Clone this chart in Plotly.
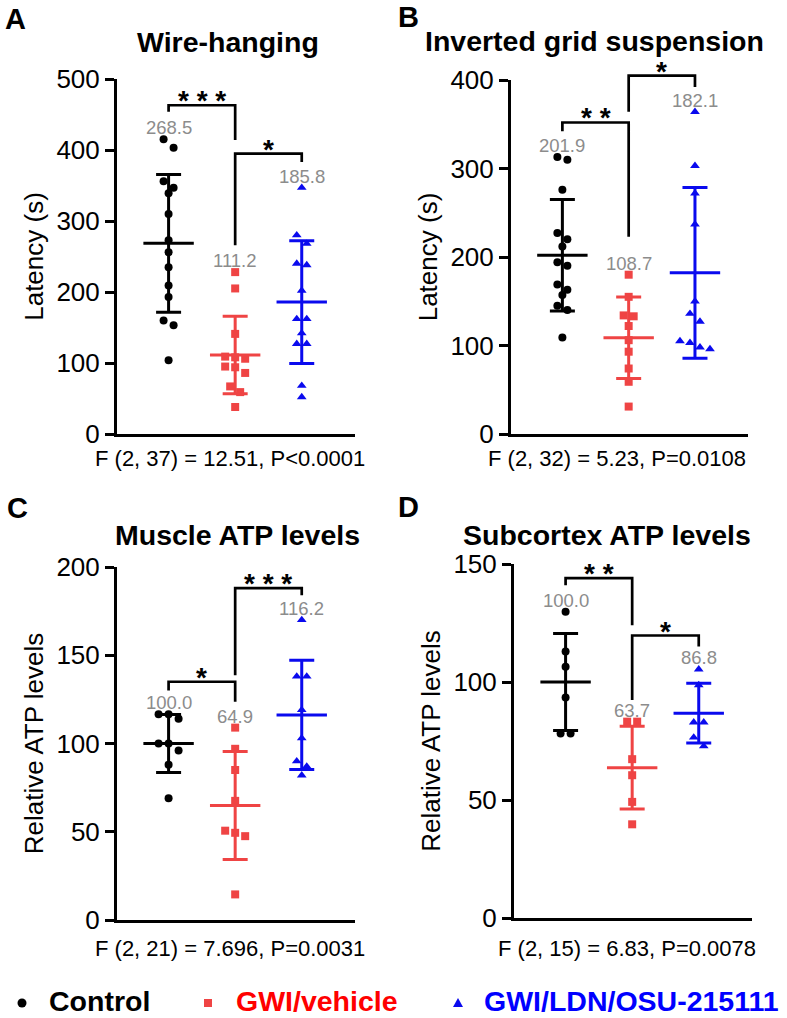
import plotly.graph_objects as go

W, H = 787, 1018
FONT = "Liberation Sans, Arial, sans-serif"

# ---------------- data ----------------
groups = ["Control", "GWI/vehicle", "GWI/LDN/OSU-215111"]

A_ctrl = [415, 403, 356, 347, 339, 310, 273, 256, 235, 209, 193, 160, 153, 104]
A_gwi = [228, 205, 141, 109, 108, 106, 95, 94, 86, 67, 59, 38]
A_ldn = [347, 280, 268, 240, 238, 202, 162, 162, 142, 127, 127, 68, 52]
A_mean = [268.5, 111.2, 185.8]
A_sd = [97, 54.5, 86.5]

B_ctrl = [313, 310, 276, 227, 220, 212, 194, 190, 169, 163, 157, 145, 140, 109]
B_gwi = [180, 155, 134, 133, 122, 106, 93, 74, 59, 31]
B_ldn = [364, 303, 272, 237, 150, 136, 127, 105, 103, 98, 96]
B_mean = [201.9, 108.7, 182.1]
B_sd = [63, 46, 96.5]

C_ctrl = [116.6, 116.6, 114, 100, 100, 96, 88, 69]
C_gwi = [109, 97, 85, 67.5, 50.6, 49.4, 47.5, 14.5]
C_ldn = [170, 138, 138, 119, 103, 90, 87, 82]
C_mean = [100.0, 64.9, 116.2]
C_sd = [16.4, 30.6, 31]

D_ctrl = [129.8, 112.9, 106.5, 93.4, 78.2, 78.2]
D_gwi = [83.2, 83.2, 67.3, 60.5, 49.2, 39.7]
D_ldn = [105.4, 98.7, 82.9, 82.9, 76.5, 72.8]
D_mean = [100.0, 63.7, 86.8]
D_sd = [20.5, 17.5, 12.7]

titles = ["Wire-hanging", "Inverted grid suspension", "Muscle ATP levels", "Subcortex ATP levels"]
letters = ["A", "B", "C", "D"]
ytitles = ["Latency (s)", "Latency (s)", "Relative ATP levels", "Relative ATP levels"]
ymax = [500, 400, 200, 150]
ydtick = [100, 100, 50, 50]
stats = ["F (2, 37) = 12.51, P<0.0001", "F (2, 32) = 5.23, P=0.0108",
         "F (2, 21) = 7.696, P=0.0031", "F (2, 15) = 6.83, P=0.0078"]

# significance brackets: (group i, group j, top, left leg end, right leg end, stars)
A_br = [(0, 1, 463, 454, 414, "* * *"), (1, 2, 395, 266, 383, "*")]
B_br = [(0, 1, 352, 342, 223, "* *"), (1, 2, 405, 364, 392, "*")]
C_br = [(0, 1, 135, 130, 123.6, "*"), (1, 2, 188, 138.7, 184, "* * *")]
D_br = [(0, 1, 144, 141, 124, "* *"), (1, 2, 119.7, 92.4, 115, "*")]

# ---------------- styling / layout ----------------
colors = ["#000000", "#EF4444", "#0A0AEE"]
symbols = ["circle", "square", "triangle-up"]
msizes = [8, 8, 8.5]
text_colors = ["#000000", "#FF0000", "#0000FF"]

# pixel boxes of the plot areas (x0, x1, y_top, y_bottom)
boxes = [(117, 355, 79, 434), (511, 748, 80, 434), (117, 355, 567, 920), (514, 752, 564, 918)]
xr = [-0.775, 2.8]
title_pos = [(228, 42), (594, 41), (237, 535), (607, 535)]
letter_pos = [(15, 19), (408, 17), (17, 508), (408, 507)]
stat_pos = [(230, 458), (617, 458), (230, 948), (627, 948)]

panels = [
    ([A_ctrl, A_gwi, A_ldn], A_mean, A_sd, A_br),
    ([B_ctrl, B_gwi, B_ldn], B_mean, B_sd, B_br),
    ([C_ctrl, C_gwi, C_ldn], C_mean, C_sd, C_br),
    ([D_ctrl, D_gwi, D_ldn], D_mean, D_sd, D_br),
]


def swarm(vals, ppu, ppx, thresh=9.0, spacing=10.0):
    """Prism-like column scatter: points closer than thresh px share a row."""
    order = sorted(range(len(vals)), key=lambda i: -vals[i])
    bins, cur = [], [order[0]]
    for i in order[1:]:
        if (vals[cur[0]] - vals[i]) * ppu < thresh:
            cur.append(i)
        else:
            bins.append(cur)
            cur = [i]
    bins.append(cur)
    off = [0.0] * len(vals)
    for b in bins:
        k = len(b)
        for j, i in enumerate(b):
            off[i] = (j - (k - 1) / 2) * spacing / ppx
    return off


fig = go.Figure()
shapes, annotations = [], []
layout = {}

for p, (series, means, sds, brackets) in enumerate(panels):
    n = p + 1
    xa = "x" if n == 1 else f"x{n}"
    ya = "y" if n == 1 else f"y{n}"
    x0, x1, yt, yb = boxes[p]
    xdom = [x0 / W, x1 / W]
    ydom = [1 - yb / H, 1 - yt / H]
    ppu = (yb - yt) / ymax[p]
    ppx = (x1 - x0) / (xr[1] - xr[0])

    layout["xaxis" if n == 1 else f"xaxis{n}"] = dict(
        domain=xdom, range=xr, anchor=ya, showline=True, linecolor="black", linewidth=3,
        showticklabels=False, ticks="", showgrid=False, zeroline=False, fixedrange=True)
    layout["yaxis" if n == 1 else f"yaxis{n}"] = dict(
        domain=ydom, range=[0, ymax[p]], anchor=xa, showline=True, linecolor="black",
        linewidth=3, ticks="outside", ticklen=9, tickwidth=3, tickcolor="black",
        dtick=ydtick[p], tick0=0, showgrid=False, zeroline=False, automargin=False,
        tickfont=dict(family=FONT, size=26, color="black"),
        title=dict(text=ytitles[p], font=dict(family=FONT, size=26, color="black"), standoff=6))

    for g in range(3):
        vals = series[g]
        # mean line + SD error bar (line-ew length = 1.4 * size)
        fig.add_trace(go.Scatter(
            x=[g], y=[means[g]], xaxis=xa, yaxis=ya, mode="markers", showlegend=False,
            cliponaxis=False, hoverinfo="skip",
            marker=dict(symbol="line-ew", size=36, color=colors[g],
                        line=dict(width=3, color=colors[g])),
            error_y=dict(type="data", array=[sds[g]], visible=True, color=colors[g],
                         thickness=3, width=12.5)))
        offs = swarm(vals, ppu, ppx)
        fig.add_trace(go.Scatter(
            x=[g + o for o in offs], y=vals, xaxis=xa, yaxis=ya, mode="markers",
            showlegend=False, cliponaxis=False, name=groups[g],
            marker=dict(symbol=symbols[g], size=msizes[g], color=colors[g], line=dict(width=0))))
        # mean value label above the highest point
        annotations.append(dict(
            x=g, y=max(vals), xref=xa, yref=ya, text=f"{means[g]:.1f}", showarrow=False,
            xanchor="center", yanchor="bottom", yshift=-1,
            font=dict(family=FONT, size=18.5, color="#8C8C8C")))

    # brackets use the y "domain" reference (value / axis max) so they are not clipped
    yd = f"{ya} domain"
    for (i, j, ytop, yl, yr_, stars) in brackets:
        m = ymax[p]
        shapes.append(dict(
            type="path", xref=xa, yref=yd,
            path=f"M {i},{yl / m} L {i},{ytop / m} L {j},{ytop / m} L {j},{yr_ / m}",
            line=dict(color="black", width=2.7)))
        annotations.append(dict(
            x=(i + j) / 2, y=ytop / m, xref=xa, yref=yd, text=f"<b>{stars}</b>", showarrow=False,
            xanchor="center", yanchor="bottom", yshift=-13,
            font=dict(family=FONT, size=28, color="black")))

    tx, ty = title_pos[p]
    annotations.append(dict(x=tx / W, y=1 - ty / H, xref="paper", yref="paper",
                            text=f"<b>{titles[p]}</b>", showarrow=False,
                            xanchor="center", yanchor="middle",
                            font=dict(family=FONT, size=28.5, color="black")))
    lx, ly = letter_pos[p]
    annotations.append(dict(x=lx / W, y=1 - ly / H, xref="paper", yref="paper",
                            text=f"<b>{letters[p]}</b>", showarrow=False,
                            xanchor="center", yanchor="middle",
                            font=dict(family=FONT, size=29, color="black")))
    sx, sy = stat_pos[p]
    annotations.append(dict(x=sx / W, y=1 - sy / H, xref="paper", yref="paper",
                            text=stats[p], showarrow=False,
                            xanchor="center", yanchor="middle",
                            font=dict(family=FONT, size=22, color="black")))

# ---------------- legend at the bottom ----------------
leg_y = 1001
sym_x = [22, 208, 458]
txt_x = [47, 234, 482]
for g in range(3):
    cx, cy = sym_x[g], 1003
    if g == 0:
        shapes.append(dict(type="circle", xref="paper", yref="paper",
                           x0=(cx - 4.5) / W, x1=(cx + 4.5) / W,
                           y0=1 - (cy + 4.5) / H, y1=1 - (cy - 4.5) / H,
                           fillcolor=colors[g], line=dict(width=0)))
    elif g == 1:
        shapes.append(dict(type="rect", xref="paper", yref="paper",
                           x0=(cx - 4) / W, x1=(cx + 4) / W,
                           y0=1 - (cy + 4) / H, y1=1 - (cy - 4) / H,
                           fillcolor=colors[g], line=dict(width=0)))
    else:
        shapes.append(dict(type="path", xref="paper", yref="paper",
                           path=f"M {(cx - 5) / W},{1 - (cy + 4) / H} L {(cx + 5) / W},{1 - (cy + 4) / H} "
                                f"L {cx / W},{1 - (cy - 5) / H} Z",
                           fillcolor=colors[g], line=dict(width=0)))
    annotations.append(dict(x=txt_x[g] / W, y=1 - leg_y / H, xref="paper", yref="paper",
                            text=f"<b>{groups[g]}</b>", showarrow=False, xanchor="left",
                            yanchor="middle",
                            font=dict(family=FONT, size=28.5, color=text_colors[g])))

fig.update_layout(
    width=W, height=H, margin=dict(l=0, r=0, t=0, b=0), autosize=False,
    paper_bgcolor="white", plot_bgcolor="white", showlegend=False,
    shapes=shapes, annotations=annotations, **layout)

fig.write_html("out.html", config={"displayModeBar": False},
               post_script="document.body.style.margin='0px';")
